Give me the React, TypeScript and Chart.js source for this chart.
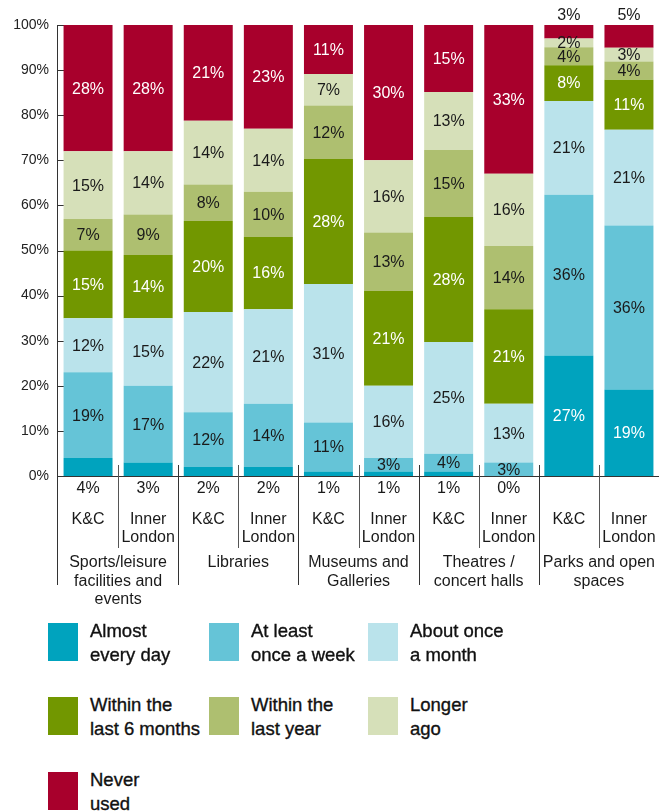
import React, { useEffect, useRef } from 'react';
import { Chart, registerables } from 'chart.js';

Chart.register(...registerables);

const FONT = '"Liberation Sans", Arial, Helvetica, sans-serif';

// ---- data ----
const barLabels: string[][] = [
  ['K&C'], ['Inner', 'London'],
  ['K&C'], ['Inner', 'London'],
  ['K&C'], ['Inner', 'London'],
  ['K&C'], ['Inner', 'London'],
  ['K&C'], ['Inner', 'London'],
];
const groupLabels: string[][] = [
  ['Sports/leisure', 'facilities and', 'events'],
  ['Libraries'],
  ['Museums and', 'Galleries'],
  ['Theatres /', 'concert halls'],
  ['Parks and open', 'spaces'],
];
const yTicks = [0, 10, 20, 30, 40, 50, 60, 70, 80, 90, 100];

const almostEveryDay = [4, 3, 2, 2, 1, 1, 1, 0, 27, 19];
const atLeastWeekly = [19, 17, 12, 14, 11, 3, 4, 3, 36, 36];
const aboutMonthly = [12, 15, 22, 21, 31, 16, 25, 13, 21, 21];
const within6Months = [15, 14, 20, 16, 28, 21, 28, 21, 8, 11];
const withinYear = [7, 9, 8, 10, 12, 13, 15, 14, 4, 4];
const longerAgo = [15, 14, 14, 14, 7, 16, 13, 16, 2, 3];
const neverUsed = [28, 28, 21, 23, 11, 30, 15, 33, 3, 5];

const seriesValues = [almostEveryDay, atLeastWeekly, aboutMonthly, within6Months, withinYear, longerAgo, neverUsed];
const seriesNames: string[][] = [
  ['Almost', 'every day'],
  ['At least', 'once a week'],
  ['About once', 'a month'],
  ['Within the', 'last 6 months'],
  ['Within the', 'last year'],
  ['Longer', 'ago'],
  ['Never', 'used'],
];
const seriesColors = ['#00A3BE', '#65C4D7', '#BAE3EB', '#729700', '#AEBF70', '#D6E0B9', '#A8002C'];
const labelColors = ['#ffffff', '#1a1a1a', '#1a1a1a', '#ffffff', '#1a1a1a', '#1a1a1a', '#ffffff'];

const totals = barLabels.map((_, i) => seriesValues.reduce((s, arr) => s + arr[i], 0));

const TEXT = '#1a1a1a';
const LINE = '#333333';

const decorPlugin = {
  id: 'decor',
  beforeDatasetsDraw(chart: any) {
    const { ctx } = chart;
    const ys = chart.scales.y;
    const left = chart.chartArea.left;
    ctx.save();
    ctx.strokeStyle = LINE;
    ctx.lineWidth = 1;
    yTicks.forEach((v) => {
      const y = Math.round(ys.getPixelForValue(v)) + 0.5;
      ctx.beginPath();
      ctx.moveTo(left - 1, y);
      ctx.lineTo(left + (v === 100 ? 15 : 6), y);
      ctx.stroke();
    });
    ctx.restore();
  },
  afterDatasetsDraw(chart: any) {
    const { ctx, chartArea } = chart;
    const xs = chart.scales.x;
    const { left, right, top, bottom } = chartArea;
    ctx.save();
    // segment labels
    ctx.font = `16px ${FONT}`;
    ctx.textAlign = 'center';
    ctx.textBaseline = 'middle';
    chart.data.datasets.forEach((ds: any, di: number) => {
      const meta = chart.getDatasetMeta(di);
      meta.data.forEach((el: any, i: number) => {
        const raw = seriesValues[di][i];
        const p = el.getProps(['x', 'y', 'base'], true);
        let ty = (p.y + p.base) / 2;
        let color = labelColors[di];
        if (di === 0 && raw < 10) {
          ty = bottom + 12;
          color = TEXT;
        } else if (di === 6 && raw < 8) {
          ty = top - 10;
          color = TEXT;
        }
        ctx.fillStyle = color;
        ctx.fillText(raw + '%', p.x, ty + 1);
      });
    });

    // axes
    ctx.strokeStyle = LINE;
    ctx.lineWidth = 1;
    const ax = left - 0.5;
    ctx.beginPath();
    ctx.moveTo(ax, top);
    ctx.lineTo(ax, bottom + 109);
    ctx.stroke();
    const by = Math.round(bottom) + 0.5;
    ctx.beginPath();
    ctx.moveTo(ax, by);
    ctx.lineTo(right, by);
    ctx.stroke();

    // separators
    const n = barLabels.length;
    for (let k = 1; k < n; k++) {
      const x = Math.round((xs.getPixelForValue(k - 1) + xs.getPixelForValue(k)) / 2) + 0.5;
      ctx.strokeStyle = k % 2 === 1 ? '#555555' : LINE;
      ctx.beginPath();
      ctx.moveTo(x, bottom - 11);
      ctx.lineTo(x, bottom + (k % 2 === 1 ? 72 : 109));
      ctx.stroke();
    }

    // bar labels
    ctx.fillStyle = TEXT;
    ctx.font = `16px ${FONT}`;
    barLabels.forEach((lines, i) => {
      const x = xs.getPixelForValue(i);
      lines.forEach((t, li) => ctx.fillText(t, x, bottom + 44 + li * 18));
    });
    // group labels
    groupLabels.forEach((lines, g) => {
      const x = (xs.getPixelForValue(2 * g) + xs.getPixelForValue(2 * g + 1)) / 2;
      lines.forEach((t, li) => ctx.fillText(t, x, bottom + 87 + li * 18.5));
    });
    ctx.restore();
  },
};

function Legend() {
  const colX = [48, 209, 368];
  const rowY = [623, 697, 772];
  return (
    <>
      {seriesNames.map((lines, i) => {
        const c = i % 3;
        const r = Math.floor(i / 3);
        return (
          <div key={i}>
            <div
              style={{
                position: 'absolute',
                left: colX[c],
                top: rowY[r],
                width: 30,
                height: 38,
                background: seriesColors[i],
              }}
            />
            <div
              style={{
                position: 'absolute',
                left: colX[c] + 42,
                top: rowY[r] - 4,
                fontFamily: FONT,
                fontSize: 18.5,
                lineHeight: '24px',
                color: '#111111',
                whiteSpace: 'nowrap',
                WebkitTextStroke: '0.35px #111111',
              }}
            >
              {lines.map((t, li) => (
                <div key={li}>{t}</div>
              ))}
            </div>
          </div>
        );
      })}
    </>
  );
}

export default function App() {
  const canvasRef = useRef<HTMLCanvasElement | null>(null);

  useEffect(() => {
    const canvas = canvasRef.current;
    if (!canvas) return;
    Chart.defaults.font.family = FONT;
    const chart = new Chart(canvas, {
      type: 'bar',
      data: {
        labels: barLabels.map((l) => l.join(' ')),
        datasets: seriesValues.map((vals, di) => ({
          label: seriesNames[di].join(' '),
          data: vals.map((v, i) => (v / totals[i]) * 100),
          backgroundColor: seriesColors[di],
          borderWidth: 0,
          barPercentage: 0.815,
          categoryPercentage: 1,
        })),
      },
      options: {
        animation: false,
        responsive: false,
        maintainAspectRatio: false,
        layout: { padding: { top: 25, bottom: 144, left: 0, right: 0 } },
        plugins: {
          legend: { display: false },
          tooltip: { enabled: false },
        },
        scales: {
          x: {
            stacked: true,
            display: false,
          },
          y: {
            stacked: true,
            min: 0,
            max: 100,
            afterFit: (s: any) => {
              s.width = 58;
            },
            afterBuildTicks: (s: any) => {
              s.ticks = yTicks.map((v) => ({ value: v }));
            },
            grid: { display: false, drawTicks: false },
            border: { display: false },
            ticks: {
              padding: 9,
              color: '#222222',
              font: { size: 14, family: FONT },
              callback: (v: any) => v + '%',
            },
          },
        },
      },
      plugins: [decorPlugin],
    });
    return () => chart.destroy();
  }, []);

  return (
    <div style={{ position: 'absolute', left: 0, top: 0, width: 659, height: 811, background: '#fff' }}>
      <canvas
        ref={canvasRef}
        width={659}
        height={620}
        style={{ position: 'absolute', left: 0, top: 0, width: 659, height: 620 }}
      />
      <Legend />
    </div>
  );
}
